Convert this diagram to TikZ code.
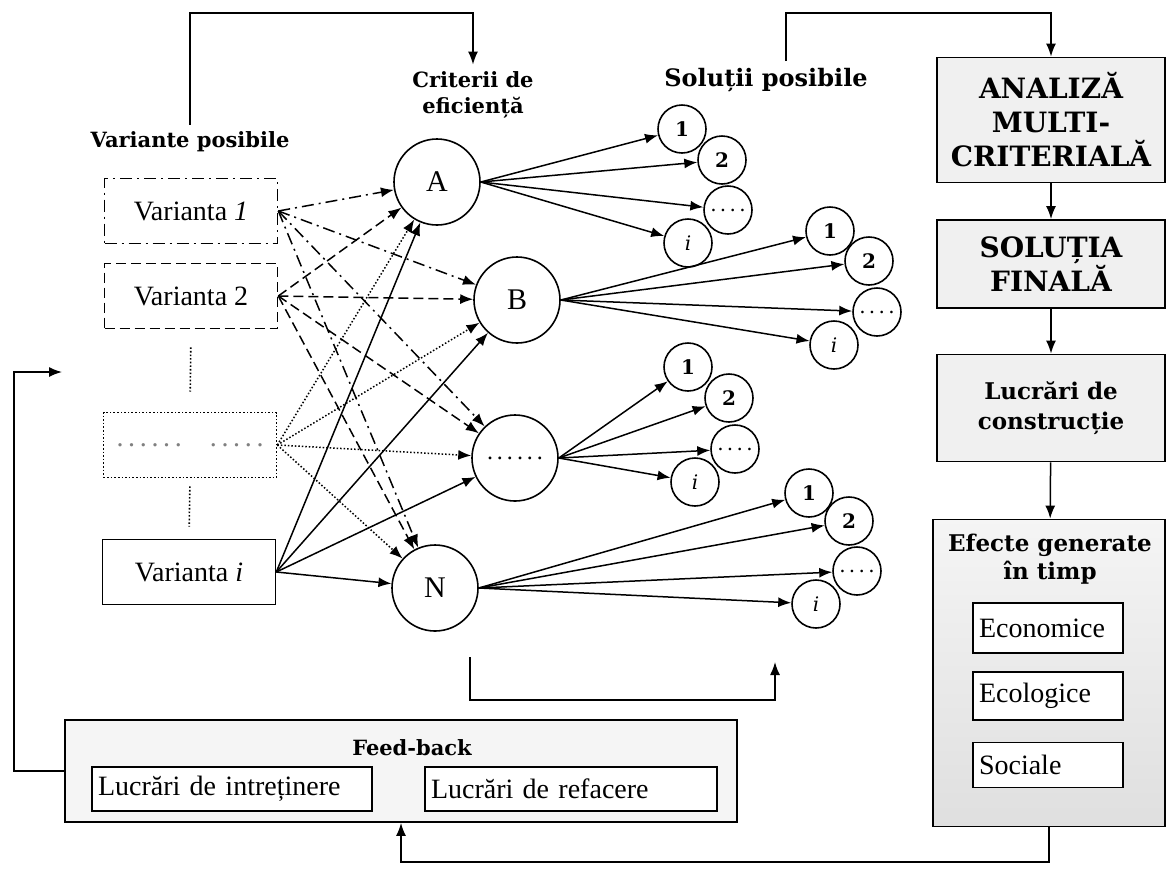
\documentclass[tikz,border=0pt]{standalone}
\usepackage{fontspec}
\setmainfont{Liberation Serif}
\newfontfamily\headfont{DejaVu Serif}
\usetikzlibrary{arrows.meta,calc}

\tikzset{
  flow/.style={line width=0.75pt,-{Latex[length=6.5pt,width=5pt]}},
  dashdot/.style={dash pattern=on 6pt off 2.5pt on 1pt off 2.5pt},
  longdashed/.style={dash pattern=on 5pt off 2.5pt},
  varbox/.style={draw,line width=0.8pt,minimum width=86.5pt,minimum height=32.5pt,
    font=\fontsize{14}{16}\selectfont},
  crit/.style={draw,circle,line width=0.8pt,minimum size=43pt,inner sep=0pt,
    font=\fontsize{15}{17}\selectfont},
  sol/.style={draw,circle,line width=0.8pt,minimum size=24pt,inner sep=0pt,
    font=\headfont\bfseries\fontsize{10}{12}\selectfont},
  head/.style={align=center,font=\headfont\bfseries\fontsize{10.5}{13}\selectfont},
  stepbox/.style={draw,line width=0.9pt,fill=gray!12,minimum width=114pt,align=center,
    font=\headfont\bfseries\fontsize{14}{17}\selectfont},
  itembox/.style={draw,line width=0.8pt,fill=white,inner sep=3pt,align=left,
    font=\fontsize{14}{16}\selectfont},
}

\begin{document}
\begin{tikzpicture}[x=0.5pt, y=-0.5pt]
  \useasboundingbox (0,0) rectangle (1167,869);
  \coordinate (top) at (0,13);
  \coordinate (bot) at (0,862);

  % variante
  \node[head] (vartitle) at (190,142) {Variante posibile};
  \node[varbox,dashdot] (v1) at (191,211) {Varianta \textit{1}};
  \node[varbox,longdashed] (v2) at (191,296) {Varianta 2};
  \node[varbox,densely dotted] (vdots) at (190,445)
    {\textcolor{gray}{.\,.\,.\,.\,.\,.\quad.\,.\,.\,.\,.}};
  \node[varbox] (vi) at (189,572) {Varianta \textit{i}};
  \draw[densely dotted,line width=0.8pt,shorten <=9pt,shorten >=10pt] (v2.south) -- (vdots.north);
  \draw[densely dotted,line width=0.8pt,shorten <=4pt,shorten >=6pt] (vdots.south) -- (vi.north);

  % criterii
  \node[head] (crittitle) at (473,95) {Criterii de\\eficiență};
  \node[crit] (cA) at (437,182) {A};
  \node[crit] (cB) at (517,300) {B};
  \node[crit] (cD) at (515,458) {\fontsize{12}{14}\selectfont.\,.\,.\,.\,.\,.};
  \node[crit] (cN) at (435,588) {N};

  \foreach \v/\s in {v1/dashdot, v2/longdashed, vdots/densely dotted, vi/solid}
    \foreach \c in {cA,cB,cD,cN}
      \draw[flow,\s] (\v.east) -- (\c);

  % solutii
  \node[head,font=\headfont\bfseries\fontsize{12}{14}\selectfont] (soltitle) at (766,80) {Soluții posibile};
  \foreach \c/\xa/\ya/\xb/\yb/\xc/\yc/\xd/\yd in {
      A/682/129/722/160/728/210/688/243,
      B/830/231/869/261/877/312/834/345,
      D/688/367/729/398/735/449/695/482,
      N/809/493/849/521/857/571/816/604} {
    \node[sol] (s\c1) at (\xa,\ya) {1};
    \node[sol] (s\c2) at (\xb,\yb) {2};
    \node[sol] (s\c3) at (\xc,\yc) {\mdseries.\,.\,.\,.};
    \node[sol] (s\c4) at (\xd,\yd) {\mdseries\itshape i};
    \foreach \k in {1,...,4}
      \draw[flow] (c\c.east) -- (s\c\k);
  }

  % coloana din dreapta
  \node[stepbox,minimum height=62.5pt,inner sep=1pt] (analiza) at (1051,120) {ANALIZĂ\\MULTI-\\CRITERIALĂ};
  \node[stepbox,minimum height=44pt] (finala) at (1051,264) {SOLUȚIA\\FINALĂ};
  \node[stepbox,minimum height=53.5pt,font=\headfont\bfseries\fontsize{11.5}{15}\selectfont]
    (constr) at (1051,408) {Lucrări de\\construcție};
  \node[draw,line width=0.9pt,top color=gray!8,bottom color=gray!25,
    minimum width=116pt,minimum height=153.5pt] (efecte) at (1049,673) {};
  \node[head,font=\headfont\bfseries\fontsize{11.5}{14}\selectfont] (eftitle) at (1050,559)
    {Efecte generate\\în timp};
  \node[itembox,text width=69pt,minimum height=25pt] (econ) at (1048,628) {Economice};
  \node[itembox,text width=69pt,minimum height=24pt] (ecol) at (1048,696) {Ecologice};
  \node[itembox,text width=69pt,minimum height=22.5pt] (soc) at (1048,765) {Sociale};

  % feed-back
  \node[draw,line width=0.9pt,fill=gray!8,minimum width=336pt,minimum height=51pt]
    (feedback) at (401,771) {};
  \node[head] (fbtitle) at (412,748) {Feed-back};
  \node[itembox,text width=134pt,minimum height=22pt] (intret) at (232,789) {Lucrări de intreținere};
  \node[itembox,text width=140pt,minimum height=22pt] (refac) at (571,789) {Lucrări de refacere};

  % legaturi
  \coordinate (fbend) at (62,372);
  \coordinate (critbot) at (470,657);
  \coordinate (solbot) at (775,662);
  \draw[flow] (vartitle.north) |- (crittitle.north |- top) -- (crittitle.north);
  \draw[flow] ([xshift=10pt]soltitle.north) |- (analiza.north |- top) -- (analiza.north);
  \draw[flow] (analiza) -- (finala);
  \draw[flow] (finala) -- (constr);
  \draw[flow] (constr) -- (efecte);
  \draw[flow] (efecte.south) -- (efecte.south |- bot) -| (feedback.south);
  \draw[flow] (feedback.west) -- ++(-50,0) |- (fbend);
  \draw[flow] (critbot) -- ++(0,43) -| (solbot);
\end{tikzpicture}
\end{document}
